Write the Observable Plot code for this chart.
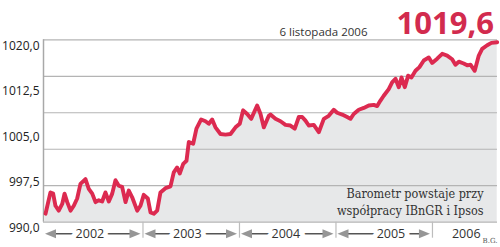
<!DOCTYPE html>
<html><head><meta charset="utf-8">
<script src="https://cdn.jsdelivr.net/npm/d3@7"></script>
<script src="https://cdn.jsdelivr.net/npm/@observablehq/plot@0.6"></script>
<style>html,body{margin:0;padding:0;background:#fff;} #chart svg{display:block}</style>
</head><body><div id="chart"></div>
<script>
// position along the time axis (in years)
const t = [2001.990,2002.041,2002.069,2002.093,2002.127,2002.163,2002.187,2002.215,2002.249,2002.283,2002.318,2002.352,2002.404,2002.438,2002.474,2002.508,2002.542,2002.577,2002.611,2002.646,2002.681,2002.715,2002.749,2002.784,2002.819,2002.853,2002.888,2002.940,2002.974,
2003.008,2003.050,2003.078,2003.112,2003.147,2003.181,2003.233,2003.285,2003.319,2003.354,2003.381,2003.417,2003.451,2003.475,2003.520,2003.554,2003.603,2003.648,2003.682,2003.717,2003.751,2003.803,2003.855,2003.907,2003.959,
2004.003,2004.038,2004.080,2004.121,2004.183,2004.218,2004.252,2004.304,2004.321,2004.373,2004.425,2004.477,2004.528,2004.573,2004.615,2004.650,2004.684,2004.718,2004.770,2004.822,2004.874,2004.925,2004.977,
2005.012,2005.064,2005.116,2005.150,2005.184,2005.236,2005.288,2005.340,2005.392,2005.427,2005.461,2005.495,2005.547,2005.582,2005.617,2005.651,2005.679,2005.713,2005.748,2005.782,2005.824,2005.865,2005.910,2005.962,2005.997,
2006.049,2006.101,2006.152,2006.204,2006.238,2006.273,2006.324,2006.360,2006.394,2006.438,2006.480,2006.515,2006.567,2006.611,2006.671];
const values = [991.4,994.9,994.7,992.7,991.9,993.0,994.7,993.3,991.9,992.7,993.9,996.3,997.1,995.5,994.7,993.3,993.6,993.4,994.9,993.4,994.7,996.9,996.0,995.8,993.3,995.2,994.1,991.9,992.7,
994.5,993.9,991.6,991.4,991.9,994.9,995.6,995.9,998.2,999.0,998.0,999.6,1000.1,1003.2,1002.9,1005.4,1006.9,1006.6,1006.2,1006.9,1005.6,1004.5,1004.4,1004.5,1005.6,
1006.2,1008.4,1007.8,1007.0,1009.2,1007.8,1005.6,1007.5,1007.7,1007.0,1006.6,1006.0,1005.9,1005.4,1007.3,1007.3,1006.7,1005.9,1006.0,1004.8,1007.0,1007.5,1008.5,
1008.0,1007.7,1007.3,1007.0,1007.8,1008.5,1008.8,1009.2,1009.3,1009.1,1010.0,1010.8,1011.9,1013.0,1013.6,1012.2,1013.8,1012.2,1014.1,1013.8,1014.9,1015.5,1016.6,1017.1,1016.2,
1016.9,1017.7,1017.4,1016.8,1015.9,1016.4,1016.1,1015.8,1015.9,1014.9,1017.4,1018.5,1019.1,1019.5,1019.6];

const yTicks = [990, 997.5, 1005, 1012.5, 1020];
const gridLevels = [990, 996, 1002, 1008, 1014, 1020];
const yearStarts = [2002, 2003, 2004, 2005, 2006];
const yearLabels = ["2002", "2003", "2004", "2005", "2006"];
const yearLabelPos = [2002.45, 2003.46, 2004.48, 2005.57, 2006.35];
const yearHasArrows = [true, true, true, true, false];
const xDomain = [2001.969, 2006.674];
const yDomain = [990, 1020];
const lastValue = "1019,6";
const dateLabel = "6 listopada 2006";
const note = "Barometr powstaje przy\nwspółpracy IBnGR i Ipsos";
const credit = "B.G.";

const data = t.map((d, i) => ({t: d, v: values[i]}));
const segs = yearStarts.map((s, i) => ({
  x1: i === 0 ? xDomain[0] : s,
  x2: i + 1 < yearStarts.length ? yearStarts[i + 1] : xDomain[1],
  arrows: yearHasArrows[i]
})).filter(d => d.arrows);
const years = yearLabels.map((l, i) => ({label: l, x: yearLabelPos[i]}));

const headRight = {draw(ctx) { ctx.moveTo(0, 0); ctx.lineTo(-11, -4.5); ctx.lineTo(-11, 4.5); ctx.closePath(); }};
const headLeft = {draw(ctx) { ctx.moveTo(0, 0); ctx.lineTo(11, -4.5); ctx.lineTo(11, 4.5); ctx.closePath(); }};

const red = "#dc2a50";
const bandDy = 11.6;
const base = yDomain[0];

const chart = Plot.plot({
  width: 500,
  height: 247,
  marginLeft: 43,
  marginRight: 3,
  marginTop: 39.3,
  marginBottom: 25.3,
  style: {fontFamily: "Open Sans", background: "white"},
  x: {domain: xDomain},
  y: {domain: yDomain},
  marks: [
    Plot.areaY(data, {x: "t", y1: base, y2: "v", fill: "#e7e8e9"}),
    Plot.ruleY(gridLevels, {stroke: "#b4b4b4", strokeWidth: 1.2}),
    Plot.ruleX([xDomain[0]], {stroke: "#a8a8a8", strokeWidth: 1.5}),
    Plot.axisY(yTicks, {tickSize: 0, tickPadding: 4, dy: 6, fontSize: 12, color: "#222", label: null,
      tickFormat: d => d.toFixed(1).replace(".", ",")}),
    Plot.axisX(yearStarts.slice(1), {tickSize: 16, tickFormat: () => "", stroke: "#bdbdbd", strokeWidth: 1.2, label: null}),
    Plot.line(data, {x: "t", y: "v", stroke: red, strokeWidth: 3.9, strokeLinejoin: "round", strokeLinecap: "round"}),
    Plot.ruleY(segs, {x1: "x1", x2: "x2", y: base, dy: bandDy, insetLeft: 10, insetRight: 10, stroke: "#555", strokeWidth: 1.4}),
    Plot.dot(segs, {x: "x1", y: base, dy: bandDy, dx: 1.5, symbol: headLeft, fill: "#969696", stroke: "none", r: 5}),
    Plot.dot(segs, {x: "x2", y: base, dy: bandDy, dx: -2.5, symbol: headRight, fill: "#969696", stroke: "none", r: 5}),
    Plot.text(years, {x: "x", y: base, dy: bandDy, text: "label", fontSize: 12.5, fill: "#333", stroke: "white", strokeWidth: 10}),
    Plot.text([dateLabel], {text: d => d, frameAnchor: "top-right", dx: -130, dy: -3.8, lineAnchor: "bottom", fontSize: 11.5, fill: "#333"}),
    Plot.text([lastValue], {text: d => d, frameAnchor: "top-right", dx: -3.5, dy: -5.5, lineAnchor: "bottom", fontSize: 31, fontWeight: 700, fill: "#d22b4e", style: "letter-spacing:3.5px"}),
    Plot.text([note], {text: d => d, frameAnchor: "bottom-right", dx: -14, dy: -7, lineAnchor: "bottom", fontSize: 12.5, lineHeight: 1.36, fontFamily: "DejaVu Serif Condensed", fill: "#333"}),
    Plot.text([credit], {text: d => d, frameAnchor: "bottom-right", dx: 0, dy: 20.3, lineAnchor: "bottom", fontSize: 7, fontFamily: "DejaVu Serif", fill: "#555"})
  ]
});
document.getElementById("chart").appendChild(chart);
</script>
</body></html>
